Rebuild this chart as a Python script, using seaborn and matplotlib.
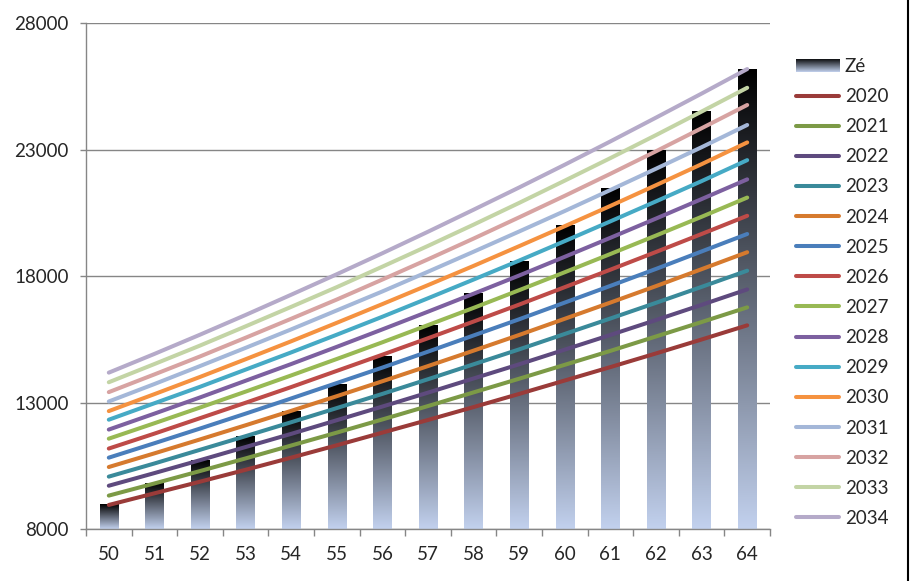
import numpy as np
import pandas as pd
import matplotlib
matplotlib.use("Agg")
import matplotlib.pyplot as plt
import seaborn as sns
from matplotlib.colors import LinearSegmentedColormap
from matplotlib.lines import Line2D
from matplotlib.patches import Rectangle

# idades no eixo x
ages = list(range(50, 65))

# barras "Zé"
ze = [8950, 9800, 10700, 11660, 12660, 13730, 14820, 16030, 17290, 18590,
      19980, 21460, 22950, 24520, 26180]

# curvas por ano
years = [str(y) for y in range(2020, 2035)]
v2020 = [8950, 9410, 9870, 10340, 10820, 11310, 11810, 12310, 12820, 13340, 13870, 14400, 14940, 15490, 16050]
v2021 = [9320, 9800, 10290, 10790, 11300, 11810, 12330, 12860, 13400, 13940, 14490, 15040, 15610, 16180, 16760]
v2022 = [9710, 10210, 10720, 11240, 11760, 12300, 12840, 13390, 13950, 14510, 15090, 15670, 16260, 16860, 17470]
v2023 = [10070, 10590, 11130, 11670, 12220, 12780, 13340, 13920, 14510, 15100, 15710, 16320, 16940, 17570, 18210]
v2024 = [10450, 10990, 11540, 12100, 12670, 13250, 13840, 14440, 15050, 15670, 16310, 16950, 17600, 18270, 18940]
v2025 = [10820, 11390, 11970, 12560, 13160, 13770, 14380, 15010, 15650, 16290, 16950, 17610, 18280, 18970, 19660]
v2026 = [11180, 11770, 12380, 12990, 13610, 14250, 14890, 15540, 16200, 16870, 17560, 18250, 18950, 19660, 20380]
v2027 = [11570, 12180, 12800, 13430, 14070, 14720, 15380, 16060, 16740, 17440, 18150, 18870, 19600, 20340, 21100]
v2028 = [11930, 12560, 13200, 13860, 14520, 15200, 15890, 16590, 17300, 18020, 18760, 19510, 20270, 21040, 21820]
v2029 = [12320, 12970, 13620, 14300, 14980, 15680, 16390, 17120, 17860, 18610, 19380, 20160, 20950, 21750, 22580]
v2030 = [12660, 13330, 14010, 14710, 15420, 16150, 16890, 17640, 18400, 19180, 19970, 20770, 21590, 22420, 23280]
v2031 = [13040, 13730, 14440, 15160, 15890, 16640, 17390, 18170, 18960, 19760, 20570, 21400, 22240, 23090, 23970]
v2032 = [13410, 14110, 14820, 15560, 16310, 17070, 17860, 18660, 19480, 20320, 21170, 22040, 22930, 23840, 24760]
v2033 = [13800, 14520, 15250, 16010, 16780, 17560, 18370, 19190, 20030, 20890, 21770, 22660, 23570, 24500, 25440]
v2034 = [14180, 14920, 15680, 16460, 17260, 18070, 18900, 19750, 20620, 21500, 22400, 23320, 24260, 25210, 26180]
series = [v2020, v2021, v2022, v2023, v2024, v2025, v2026, v2027, v2028, v2029,
          v2030, v2031, v2032, v2033, v2034]

colors = ["#9A3B39", "#7C9A46", "#5E4A7E", "#3A8A9A", "#D67A2E",
          "#4A7EBB", "#BE4B48", "#98B954", "#7D60A0", "#46AAC5",
          "#F59240", "#A4B7D8", "#D7A3A2", "#C3D4A5", "#B5AAC9"]

yticks = [8000, 13000, 18000, 23000, 28000]

sns.set_style("white")
plt.rcParams["font.family"] = ["Lato", "DejaVu Sans"]

fig = plt.figure(figsize=(9.11, 5.81), dpi=100)
ax = fig.add_axes([86 / 911, 1 - 529 / 581, (770 - 86) / 911, (529 - 23) / 581])

bar_df = pd.DataFrame({"idade": [str(a) for a in ages], "Zé": ze})
sns.barplot(data=bar_df, x="idade", y="Zé", color="black", width=0.4, ax=ax)

# degradê preto -> azul claro em cada barra
grad = LinearSegmentedColormap.from_list("ze", ["#000000", "#C2D1EE"])
g = np.linspace(0, 1, 256).reshape(-1, 1)
for p in list(ax.patches):
    x0, w, top = p.get_x(), p.get_width(), p.get_height()
    p.set_visible(False)
    ax.imshow(g, cmap=grad, extent=[x0, x0 + w, 8000, top], aspect="auto",
              origin="upper", zorder=2)

line_df = pd.DataFrame({
    "pos": list(range(len(ages))) * len(years),
    "ano": np.repeat(years, len(ages)),
    "valor": np.concatenate(series),
})
sns.lineplot(data=line_df, x="pos", y="valor", hue="ano", palette=colors,
             linewidth=2.9, ax=ax, legend=False, zorder=3,
             solid_capstyle="round")

ax.set_xlim(-0.5, len(ages) - 0.5)
ax.set_ylim(8000, 28000)
ax.set_yticks(yticks)
ax.set_xticks(range(len(ages)))
ax.set_xticklabels([str(a) for a in ages])
ax.set_xticks(np.arange(-0.5, len(ages), 1), minor=True)
ax.set_xlabel("")
ax.set_ylabel("")
ax.yaxis.grid(True, color="#868686", linewidth=1)
ax.set_axisbelow(True)
for s in ["top", "right"]:
    ax.spines[s].set_visible(False)
for s in ["left", "bottom"]:
    ax.spines[s].set_color("#868686")
    ax.spines[s].set_linewidth(1)
ax.tick_params(axis="y", which="major", left=True, length=4.3, width=1,
               color="#868686", labelsize=13.5, pad=8.3)
ax.tick_params(axis="x", which="major", length=0, labelsize=13.5, pad=12.5)
ax.tick_params(axis="x", which="minor", bottom=True, length=5, width=1,
               color="#868686")

handles = [Rectangle((0, 0), 1, 1, facecolor="none", edgecolor="none")]
handles += [Line2D([], [], color=c, lw=2.9, solid_capstyle="round") for c in colors]
leg = fig.legend(handles, ["Zé"] + years, loc="upper left",
                 bbox_to_anchor=(796 / 911, 1 - 58 / 581), frameon=False,
                 fontsize=13.5, handlelength=2.3, handletextpad=0.3,
                 labelspacing=0.70, borderpad=0, borderaxespad=0)

# moldura direita da área do gráfico
fig.add_artist(Line2D([908 / 911, 908 / 911], [0, 1], color="black", lw=1.5,
                      transform=fig.transFigure))

fig.canvas.draw()
bb = leg.legend_handles[0].get_window_extent(fig.canvas.get_renderer())
bb = bb.transformed(fig.transFigure.inverted())
lax = fig.add_axes([bb.x0, bb.y0, bb.width, bb.height])
lax.imshow(g, cmap=grad, aspect="auto", origin="upper")
lax.axis("off")

fig.savefig("out.png", dpi=100)
